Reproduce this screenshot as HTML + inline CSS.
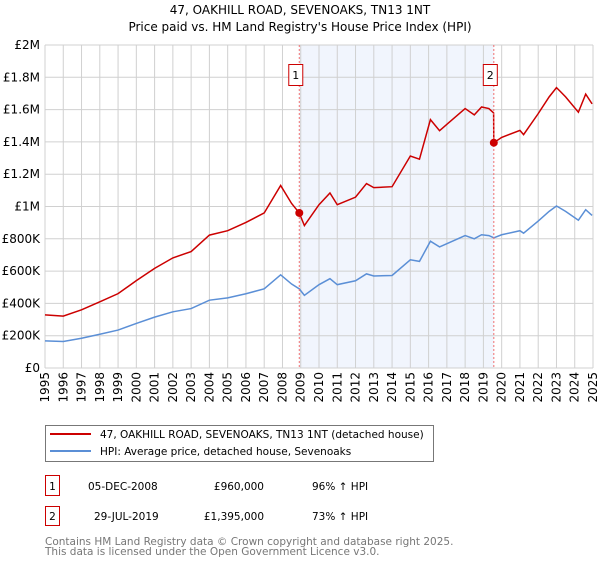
<!DOCTYPE html>
<html><head><meta charset="utf-8"><style>
body{margin:0;background:#fff;width:600px;height:560px;overflow:hidden;font-family:"DejaVu Sans","Liberation Sans",sans-serif}
svg text{font-family:"DejaVu Sans","Liberation Sans",sans-serif}
</style></head><body>
<svg id="c" width="600" height="560">
<text x="300" y="14" text-anchor="middle" font-size="12">47, OAKHILL ROAD, SEVENOAKS, TN13 1NT</text>
<text x="300" y="31" text-anchor="middle" font-size="12">Price paid vs. HM Land Registry's House Price Index (HPI)</text>
<g id="plot"></g>
<g>
<rect x="45.5" y="425.5" width="388" height="36" fill="#fff" stroke="#777"/>
<line x1="50" y1="434" x2="91" y2="434" stroke="#cc0000" stroke-width="2"/>
<text x="100" y="438" font-size="10.5">47, OAKHILL ROAD, SEVENOAKS, TN13 1NT (detached house)</text>
<line x1="50" y1="451" x2="91" y2="451" stroke="#5b8fd6" stroke-width="2"/>
<text x="100" y="455" font-size="10.5">HPI: Average price, detached house, Sevenoaks</text>
</g>
<g font-size="10.5">
<rect x="45.5" y="475.5" width="14" height="20" fill="#fff" stroke="#cc0000"/>
<text x="52.5" y="490" text-anchor="middle">1</text>
<text x="88" y="490">05-DEC-2008</text>
<text x="264" y="490" text-anchor="end">£960,000</text>
<text x="312" y="490">96% ↑ HPI</text>
<rect x="45.5" y="506.5" width="14" height="19" fill="#fff" stroke="#cc0000"/>
<text x="52.5" y="520" text-anchor="middle">2</text>
<text x="94" y="520">29-JUL-2019</text>
<text x="264" y="520" text-anchor="end">£1,395,000</text>
<text x="312" y="520">73% ↑ HPI</text>
</g>
<text x="45" y="545" font-size="10.5" fill="#777">Contains HM Land Registry data © Crown copyright and database right 2025.</text>
<text x="45" y="555" font-size="10.5" fill="#777">This data is licensed under the Open Government Licence v3.0.</text>
</svg>
<script>
const hpiYears=[1995,1996,1997,1998,1999,2000,2001,2002,2003,2004,2005,2006,2007,2007.9,2008.5,2008.92,2009.2,2010,2010.6,2011,2012,2012.6,2013,2014,2015,2015.5,2016.1,2016.6,2017,2018,2018.5,2018.9,2019.3,2019.57,2020,2021,2021.2,2022,2022.6,2023,2023.2,2023.5,2024.2,2024.6,2024.95];
const hpiValues=[168,164,184,209,235,276,315,348,368,420,434,460,490,577,520,490,450,516,553,516,540,583,570,573,670,660,785,750,770,820,800,825,820,806,825,850,835,910,970,1003,990,970,915,980,945];
const saleYears=[2008.92,2019.57];
const salePrices=[960,1395];
const saleLabels=["1","2"];
const yTicks=[0,200,400,600,800,1000,1200,1400,1600,1800,2000];
const yTickLabels=["£0","£200K","£400K","£600K","£800K","£1M","£1.2M","£1.4M","£1.6M","£1.8M","£2M"];
const X0=45,X1=593,Y0=368,Y1=45;
const x=t=>X0+(t-1995)/30*(X1-X0);
const y=v=>Y0-v/2000*(Y0-Y1);
const ns="http://www.w3.org/2000/svg";
const g=document.getElementById('plot');
function mk(tag,at,p){const e=document.createElementNS(ns,tag);for(const k in at)e.setAttribute(k,at[k]);(p||g).appendChild(e);return e;}
function hpiAt(t){for(let i=0;i<hpiYears.length-1;i++){if(t<=hpiYears[i+1]){const f=(t-hpiYears[i])/(hpiYears[i+1]-hpiYears[i]);return hpiValues[i]+f*(hpiValues[i+1]-hpiValues[i]);}}return hpiValues[hpiValues.length-1];}
let s=mk('rect',{x:x(saleYears[0]),y:Y1,width:x(saleYears[1])-x(saleYears[0]),height:Y0-Y1,fill:'#f1f5fd'});


for(let yr=1995;yr<=2025;yr++){
 let l=mk('line',{x1:x(yr),x2:x(yr),y1:Y1,y2:Y0,stroke:'#d0d0d0'});
 
 
 let tx=mk('text',{x:0,y:0,'font-size':12,'text-anchor':'end',transform:`translate(${x(yr)+4},372) rotate(-90)`});
 tx.textContent=yr;
 
 
}
yTicks.forEach((v,i)=>{
 let l=mk('line',{x1:X0,x2:X1,y1:y(v),y2:y(v),stroke:'#d0d0d0'});
 
 
 let tx=mk('text',{x:40,y:y(v)+4,'font-size':12,'text-anchor':'end'});
 tx.textContent=yTickLabels[i];
 
 
});
let hp=hpiYears.map((t,i)=>x(t)+','+y(hpiValues[i])).join(' ');
let hl=mk('polyline',{points:hp,fill:'none',stroke:'#5b8fd6','stroke-width':1.5});


const r1=salePrices[0]/hpiAt(saleYears[0]),r2=salePrices[1]/hpiAt(saleYears[1]);
let pts=[];
hpiYears.forEach((t,i)=>{
 if(t<saleYears[1])pts.push([t,hpiValues[i]*r1]);
 if(Math.abs(t-saleYears[1])<1e-6){pts.push([t-0.01,hpiValues[i]*r1]);}
 if(t>=saleYears[1])pts.push([t,hpiValues[i]*r2]);
});
let pl=mk('polyline',{points:pts.map(p=>x(p[0])+','+y(p[1])).join(' '),fill:'none',stroke:'#cc0000','stroke-width':1.5});


saleYears.forEach((t,i)=>{
 let l=mk('line',{x1:x(t),x2:x(t),y1:Y1,y2:Y0,stroke:'#f07070','stroke-dasharray':'2,2'});
 
 
 let b=mk('rect',{x:x(t)-10.5,y:64.5,width:14,height:21,fill:'#fff',stroke:'#cc0000'});
 
 
 let tx=mk('text',{x:x(t)-3.5,y:79,'font-size':11,'text-anchor':'middle'});
 tx.textContent=saleLabels[i];
 
 
 let c=mk('circle',{cx:x(t),cy:y(salePrices[i]),r:4,fill:'#cc0000'});
 
 
});
</script>
</body></html>
